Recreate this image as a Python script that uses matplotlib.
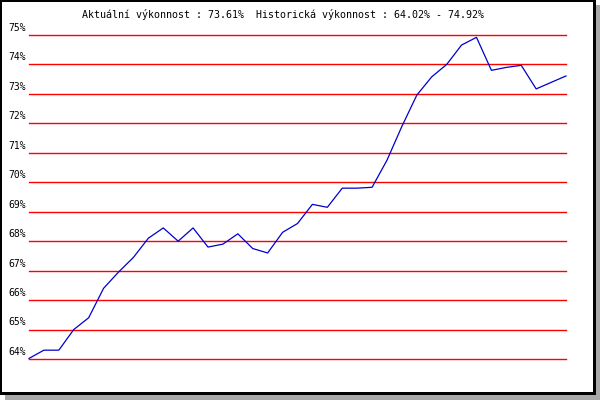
import matplotlib
matplotlib.use("Agg")
import matplotlib.pyplot as plt
from matplotlib.patches import Rectangle
import numpy as np

title_text = "Aktuální výkonnost : 73.61%  Historická výkonnost : 64.02% - 74.92%"
y_ticks = [64, 65, 66, 67, 68, 69, 70, 71, 72, 73, 74, 75]
y_labels = ["64%", "65%", "66%", "67%", "68%", "69%", "70%", "71%", "72%", "73%", "74%", "75%"]
values = [64.02, 64.3, 64.3, 65.0, 65.4, 66.4, 66.95, 67.45, 68.1, 68.45,
          68.0, 68.45, 67.8, 67.9, 68.25, 67.75, 67.6, 68.3, 68.6, 69.25,
          69.15, 69.8, 69.8, 69.83, 70.75, 71.9, 72.96, 73.58, 74.0, 74.66,
          74.92, 73.8, 73.9, 73.97, 73.17, 73.39, 73.61]

W, H = 600, 400
fig = plt.figure(figsize=(6, 4), dpi=100)
fig.patch.set_facecolor("white")

def px_rect(x0, y0, x1, y1, **kw):
    # pixel coords from top-left
    return Rectangle((x0 / W, 1 - y1 / H), (x1 - x0) / W, (y1 - y0) / H,
                     transform=fig.transFigure, **kw)

# shadow
fig.patches.append(px_rect(596, 5, 600, 400, facecolor="#a8a8a8", edgecolor="none", zorder=0))
fig.patches.append(px_rect(5, 395, 600, 400, facecolor="#a8a8a8", edgecolor="none", zorder=0))
# black frame
fig.patches.append(px_rect(0, 0, 596, 2, facecolor="black", edgecolor="none", zorder=1))
fig.patches.append(px_rect(0, 392, 596, 395, facecolor="black", edgecolor="none", zorder=1))
fig.patches.append(px_rect(0, 0, 2, 395, facecolor="black", edgecolor="none", zorder=1))
fig.patches.append(px_rect(593, 0, 596, 395, facecolor="black", edgecolor="none", zorder=1))

# axes: x from 29 to 566, y from 35 (75%) to 359 (64%)
left, right, top, bottom = 29, 566, 35, 359
ax = fig.add_axes([left / W, 1 - bottom / H, (right - left) / W, (bottom - top) / H])
ax.set_facecolor("none")
for s in ax.spines.values():
    s.set_visible(False)

x = np.arange(len(values))
ax.set_xlim(0, len(values) - 1)
ax.set_ylim(y_ticks[0], y_ticks[-1])

for yv in y_ticks:
    ax.axhline(yv, color="#ff0000", linewidth=1.0, zorder=1, clip_on=False)

ax.plot(x, values, color="#0000cc", linewidth=0.9, zorder=2, clip_on=False)

ax.set_xticks([])
ax.set_yticks([])

font = dict(family="DejaVu Sans Mono", size=7, color="black")
for yv, lab in zip(y_ticks, y_labels):
    ax.annotate(lab, xy=(0, yv), xycoords=("axes fraction", "data"),
                xytext=(-2.5, 1.5), textcoords="offset points",
                ha="right", va="bottom", **font)

fig.text(283.5 / W, 1 - 14 / H, title_text, ha="center", va="center",
         family="DejaVu Sans Mono", size=7.2, color="black")

fig.savefig("out.png", dpi=100)
